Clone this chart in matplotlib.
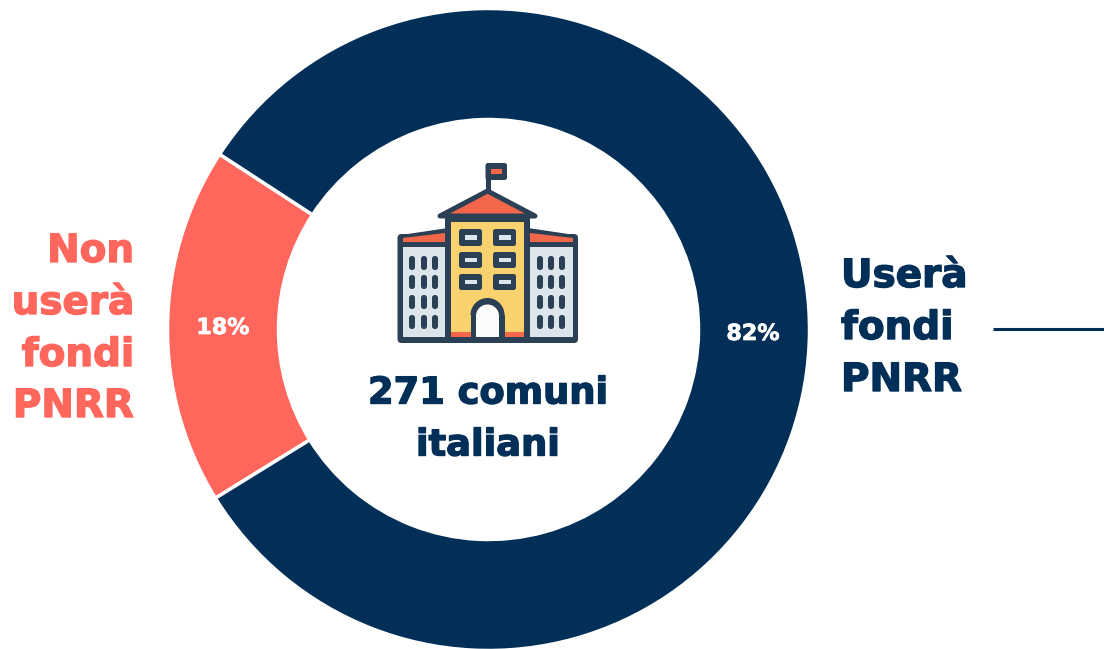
# plot.py - donut chart, comuni italiani e fondi PNRR
import matplotlib
matplotlib.use("Agg")
import matplotlib.pyplot as plt
import matplotlib.patheffects as pe
from matplotlib.patches import Polygon, Rectangle, FancyBboxPatch, Wedge

# --- Data ---
shares = [18, 82]
share_labels = ["18%", "82%"]
left_label = ["Non", "userà", "fondi", "PNRR"]
right_label = ["Userà", "fondi", "PNRR"]
center_label = ["271 comuni", "italiani"]

NAVY = "#012F57"
CORAL = "#FF665C"
ICON_DARK = "#2B3F55"
ICON_RED = "#F2674A"
ICON_YELLOW = "#F9D26E"
ICON_GREY = "#DDE5EC"

plt.rcParams['font.family'] = ['DejaVu Sans']

fig = plt.figure(figsize=(11.04, 6.49), dpi=100)
ax = fig.add_axes([0, 0, 1, 1])

# --- Donut ---
CX, CY, R_OUT, R_IN = 488.5, 329.5, 321, 210
ax.pie(shares, colors=[CORAL, NAVY], startangle=180 - shares[0] * 3.6 / 2 + 0.7,
       center=(CX, CY), radius=R_OUT, frame=True,
       wedgeprops=dict(width=R_OUT - R_IN, edgecolor="white", linewidth=2.5))
ax.set_xlim(0, 1104)
ax.set_ylim(649, 0)
ax.set_aspect("equal")
ax.axis("off")


def heavy(x, y, txt, color, size, ha="center", stroke=1.0):
    # DejaVu Bold is lighter than the original face, thicken it with a stroke
    t = ax.text(x, y, txt, color=color, fontsize=size, weight="bold", ha=ha, va="center", zorder=8)
    t.set_path_effects([pe.withStroke(linewidth=stroke, foreground=color)])


heavy(223, 328, share_labels[0], "white", 16, stroke=0.5)
heavy(753, 334, share_labels[1], "white", 16, stroke=0.5)

# --- Side labels ---
for txt, y in zip(left_label, [251, 303, 355, 406]):
    heavy(134, y, txt, CORAL, 28, ha="right")
for txt, y in zip(right_label, [276, 328, 380]):
    heavy(841, y, txt, NAVY, 28, ha="left")
ax.plot([993, 1104], [329, 329], color=NAVY, lw=2.2, solid_capstyle="butt")

# --- Center text ---
heavy(488, 393, center_label[0], NAVY, 26.5)
heavy(488, 445, center_label[1], NAVY, 26.5)


# --- Building icon ---
def box(x0, y0, x1, y1, fc, z=3):
    ax.add_patch(Rectangle((x0, y0), x1 - x0, y1 - y0, fc=fc, ec="none", zorder=z))


def rounded(x0, y0, x1, y1, fc=ICON_DARK, r=2, z=3):
    ax.add_patch(FancyBboxPatch((x0 + r, y0 + r), x1 - x0 - 2 * r, y1 - y0 - 2 * r,
                                boxstyle=f"round,pad={r}", fc=fc, ec="none", zorder=z))


def poly(points, fc, z=3):
    ax.add_patch(Polygon(points, closed=True, fc=fc, ec="none", zorder=z))


# flag
box(485.5, 165, 490.5, 190, ICON_DARK)
rounded(485.5, 163, 507, 180, ICON_DARK, 2.5)
box(491, 169, 502, 174, ICON_RED, z=4)

# wings, dark silhouette first
poly([(401, 235), (448, 228), (448, 343), (401, 343)], ICON_DARK)
poly([(575, 235), (528, 228), (528, 343), (575, 343)], ICON_DARK)
rounded(397.5, 234, 412, 343, ICON_DARK, 4)
rounded(564, 234, 578, 343, ICON_DARK, 4)
poly([(403, 238), (445, 233), (445, 242), (403, 242)], ICON_RED, z=4)
poly([(573, 238), (530, 233), (530, 242), (573, 242)], ICON_RED, z=4)
box(403, 247, 445, 337, ICON_GREY, z=4)
box(530, 247, 573, 337, ICON_GREY, z=4)
for wx in [412, 424, 435, 540, 551, 562]:
    for wy in [263, 282, 302, 322]:
        rounded(wx - 3, wy - 7, wx + 3, wy + 7, ICON_DARK, 2.8, z=5)

# center block
box(445, 217, 530, 343, ICON_DARK)
box(451, 222, 524, 337, ICON_YELLOW, z=4)
for wx0, wx1 in [(459, 482), (493, 516)]:
    for wy0, wy1 in [(229, 246), (252, 268), (274, 290)]:
        rounded(wx0, wy0, wx1, wy1, ICON_DARK, 2.5, z=5)
        box(wx0 + 6, wy0 + 6, wx1 - 5, wy1 - 6, ICON_GREY, z=6)
box(451, 332, 471, 337, ICON_RED, z=5)
box(504, 332, 524, 337, ICON_RED, z=5)

# door
ax.add_patch(Wedge((487.5, 315), 17, 180, 360, fc=ICON_DARK, ec="none", zorder=5))
box(470.5, 315, 504.5, 343, ICON_DARK, z=5)
ax.add_patch(Wedge((487.5, 316), 11.5, 180, 360, fc="#FBFBFC", ec="none", zorder=6))
box(476, 316, 499, 337, "#FBFBFC", z=6)

# main roof
ax.add_patch(Polygon([(487.5, 191), (535, 216), (440, 216)], closed=True, fc=ICON_RED,
                     ec=ICON_DARK, lw=3.6, joinstyle="round", zorder=7))

fig.savefig("out.png", dpi=100)
